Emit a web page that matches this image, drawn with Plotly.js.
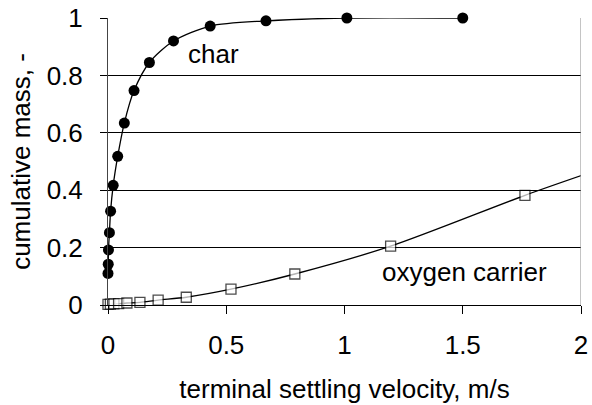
<!DOCTYPE html>
<html>
<head>
<meta charset="utf-8">
<script src="https://cdn.plot.ly/plotly-3.0.1.min.js"></script>
<style>html,body{margin:0;padding:0;background:#fff}#chart{width:592px;height:405px}</style>
</head>
<body>
<div id="chart"></div>
<script>
// char series
const charVelocity = [0.000, 0.001, 0.002, 0.006, 0.011, 0.022, 0.041, 0.069, 0.110, 0.175, 0.277, 0.432, 0.668, 1.01, 1.50];
const charCumMass  = [0.110, 0.142, 0.192, 0.252, 0.327, 0.417, 0.518, 0.634, 0.747, 0.845, 0.920, 0.972, 0.990, 1.000, 1.000];
// oxygen carrier series (last point: where the line leaves the plot)
const ocVelocity = [0.000, 0.010, 0.025, 0.045, 0.080, 0.135, 0.212, 0.331, 0.520, 0.790, 1.195, 1.763, 2.04];
const ocCumMass  = [0.002, 0.003, 0.004, 0.005, 0.007, 0.009, 0.017, 0.027, 0.055, 0.108, 0.205, 0.382, 0.462];
const xTicks = [0, 0.5, 1, 1.5, 2];
const yTicks = [0, 0.2, 0.4, 0.6, 0.8, 1];
const labels = {x: "terminal settling velocity, m/s", y: "cumulative mass, -", char: "char", oc: "oxygen carrier"};

const font = "Liberation Sans, Arial, sans-serif";
const traces = [
  {x: charVelocity, y: charCumMass, type: "scatter", mode: "lines+markers", cliponaxis: false,
   line: {color: "#000", width: 1.3, shape: "spline", smoothing: 0.8},
   marker: {symbol: "circle", size: 11, color: "#000"}, name: labels.char},
  {x: ocVelocity, y: ocCumMass, type: "scatter", mode: "lines+markers", cliponaxis: false,
   line: {color: "#000", width: 1.3, shape: "spline", smoothing: 0.8},
   marker: {symbol: "square", size: ocVelocity.map(v => v > 2 ? 0 : 10), color: "#fff", line: {color: "#000", width: 1.3}},
   name: labels.oc}
];
const layout = {
  width: 592, height: 405,
  margin: {l: 108, r: 11, t: 18, b: 100},
  paper_bgcolor: "#fff", plot_bgcolor: "#fff",
  showlegend: false,
  font: {family: font, size: 26, color: "#000"},
  xaxis: {range: [0, 2], tickvals: xTicks, ticks: "outside", ticklen: 8, tickcolor: "#000",
          showgrid: false, zeroline: false, showline: true, linecolor: "#000", linewidth: 1,
          ticklabelstandoff: 9,
          title: {text: labels.x, font: {size: 26}, standoff: 20}},
  yaxis: {range: [0, 1], tickvals: yTicks, ticks: "outside", ticklen: 7, tickcolor: "#000",
          showgrid: true, gridcolor: "#000", gridwidth: 1, zeroline: false,
          showline: true, linecolor: "#444", linewidth: 1,
          ticklabelstandoff: 12,
          title: {text: labels.y, font: {size: 26}, standoff: 8}},
  shapes: [{type: "line", xref: "x", yref: "paper", x0: 2, x1: 2, y0: 0, y1: 1, line: {color: "#888", width: 1}}],
  annotations: [
    {x: 0.445, y: 0.875, xref: "x", yref: "y", text: labels.char, showarrow: false, font: {size: 26}},
    {x: 1.509, y: 0.115, xref: "x", yref: "y", text: labels.oc, showarrow: false, font: {size: 26}}
  ]
};
Plotly.newPlot("chart", traces, layout, {staticPlot: true, displayModeBar: false});
</script>
</body>
</html>
